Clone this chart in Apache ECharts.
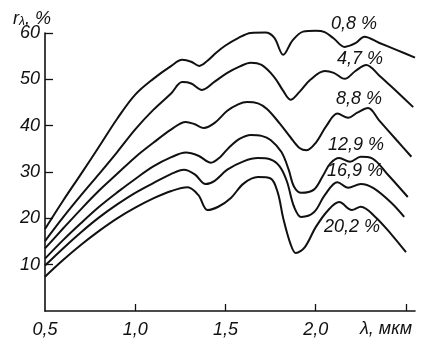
<!DOCTYPE html>
<html><head><meta charset="utf-8">
<script src="https://cdn.jsdelivr.net/npm/echarts@6/dist/echarts.min.js"></script>
<style>html,body{margin:0;padding:0;background:#fff}#c{width:430px;height:361px}</style>
</head><body><div id="c"></div>
<script>
// Wavelength (µm) and reflectance (%) for each moisture content
const moistureLabels = ['0,8 %', '4,7 %', '8,8 %', '12,9 %', '16,9 %', '20,2 %'];

const wl08 = [0.5,0.6,0.7,0.8,0.9,1.0,1.1,1.2,1.26,1.31,1.355,1.4,1.45,1.5,1.57,1.64,1.72,1.77,1.82,1.87,1.93,2.0,2.05,2.1,2.16,2.22,2.27,2.35,2.45,2.55];
const r08  = [17.7,23.8,29.6,35.5,41.5,46.7,50.1,52.9,54.2,53.8,52.9,54.0,55.8,57.3,58.9,60.0,60.1,59.0,55.3,58.3,60.3,60.5,60.2,58.8,57.0,57.8,59.2,57.9,56.3,54.7];

const wl47 = [0.5,0.6,0.7,0.8,0.9,1.0,1.1,1.2,1.26,1.31,1.37,1.44,1.51,1.58,1.64,1.7,1.77,1.82,1.86,1.91,1.97,2.05,2.1,2.16,2.22,2.28,2.35,2.45,2.54];
const r47  = [15.1,20.2,25.0,29.6,34.3,39.2,43.4,47.0,49.4,49.1,47.7,49.5,51.4,52.8,53.6,53.1,50.5,47.5,45.6,47.3,49.9,51.8,51.4,50.1,51.8,53.1,50.9,47.3,44.0];

const wl88 = [0.5,0.6,0.7,0.8,0.9,1.0,1.1,1.2,1.28,1.33,1.38,1.44,1.51,1.57,1.62,1.68,1.73,1.8,1.86,1.91,1.95,2.0,2.06,2.12,2.18,2.23,2.29,2.35,2.45,2.53];
const r88  = [13.5,17.8,22.0,26.0,29.6,33.2,36.3,39.2,40.8,40.3,39.5,40.6,43.2,44.6,45.1,44.8,43.6,40.5,37.5,35.2,34.7,36.3,40.0,42.6,41.7,42.8,43.8,41.2,36.8,33.3];

const wl129 = [0.5,0.6,0.7,0.8,0.9,1.0,1.1,1.2,1.28,1.35,1.42,1.47,1.52,1.58,1.64,1.7,1.75,1.81,1.85,1.88,1.92,1.99,2.04,2.08,2.13,2.19,2.25,2.31,2.4,2.51];
const r129  = [11.3,15.3,19.0,22.5,25.6,28.5,31.2,33.2,34.2,33.5,32.0,33.2,35.3,37.2,38.0,37.8,36.9,34.3,30.5,26.8,25.5,26.2,29.2,31.8,33.0,32.2,33.3,33.0,29.4,24.6];

const wl169 = [0.5,0.6,0.7,0.8,0.9,1.0,1.1,1.2,1.27,1.33,1.39,1.44,1.51,1.6,1.68,1.75,1.8,1.84,1.88,1.92,1.99,2.05,2.12,2.18,2.25,2.32,2.42,2.49];
const r169  = [9.8,13.5,17.0,20.2,23.0,25.5,27.6,29.6,30.5,29.5,27.4,28.1,30.5,32.3,33.0,32.7,31.2,28.0,22.5,20.3,21.3,25.0,27.8,26.6,27.4,26.5,23.3,20.3];

const wl202 = [0.5,0.6,0.7,0.8,0.9,1.0,1.1,1.2,1.29,1.35,1.4,1.46,1.53,1.6,1.68,1.75,1.79,1.82,1.86,1.89,1.94,2.0,2.07,2.13,2.2,2.25,2.33,2.42,2.5];
const r202  = [7.4,11.0,14.3,17.3,20.0,22.3,24.3,25.9,26.7,25.0,21.8,22.5,24.4,27.5,28.9,28.6,25.5,20.0,14.5,12.5,13.8,18.1,21.8,23.5,21.8,22.5,20.3,16.5,12.7];

const xTicks = [1.0, 1.5, 2.0, 2.5];
const xTickLabels = [0.5, 1.0, 1.5, 2.0];
const yTicks = [10, 20, 30, 40, 50, 60];

const seriesWl = [wl08, wl47, wl88, wl129, wl169, wl202];
const seriesR = [r08, r47, r88, r129, r169, r202];

const ink = '#111';
const FF = '"Liberation Sans", Arial, sans-serif';
const chart = echarts.init(document.getElementById('c'), null, {renderer: 'canvas'});

const series = seriesWl.map((wl, k) => ({
  name: moistureLabels[k],
  type: 'line',
  data: wl.map((x, i) => [x, seriesR[k][i]]),
  smooth: 0.35,
  symbol: 'none',
  showSymbol: false,
  clip: false,
  lineStyle: {color: ink, width: 2},
  z: 3
}));

const labelPos = [[354, 24], [360, 59], [359, 99], [356, 145], [355, 171], [352, 227]];

const graphics = moistureLabels.map((t, k) => ({
  type: 'text', x: labelPos[k][0], y: labelPos[k][1], z: 10,
  style: {text: t, align: 'center', verticalAlign: 'middle',
    font: 'italic 18px ' + FF, fill: ink}
}));
graphics.push({
  type: 'text', x: 386, y: 329, z: 10,
  style: {text: 'λ, мкм', align: 'center', verticalAlign: 'middle',
    font: 'italic 18px ' + FF, fill: ink}
});
graphics.push({
  type: 'text', x: 13, y: 6, z: 10,
  style: {
    text: '{a|r}{b|λ}{a|, %}', align: 'left', verticalAlign: 'top',
    rich: {
      a: {font: 'italic 18px ' + FF, fill: ink, verticalAlign: 'bottom', lineHeight: 22},
      b: {font: 'italic 12px ' + FF, fill: ink, verticalAlign: 'bottom', lineHeight: 10}
    }
  }
});

chart.setOption({
  animation: false,
  backgroundColor: '#fff',
  grid: {left: 45, right: 15, top: 33, bottom: 50},
  xAxis: {
    type: 'value', min: 0.5, max: 2.55, interval: 0.5,
    axisLine: {show: true, lineStyle: {color: ink, width: 1.6}},
    axisTick: {show: true, inside: true, length: 7, customValues: xTicks, lineStyle: {color: ink, width: 1.3}},
    axisLabel: {customValues: xTickLabels, formatter: v => v.toFixed(1).replace('.', ','),
      fontFamily: FF, fontStyle: 'italic', fontSize: 18, color: ink, margin: 10},
    splitLine: {show: false}
  },
  yAxis: {
    type: 'value', min: 0, max: 60, interval: 10,
    axisLine: {show: true, lineStyle: {color: ink, width: 1.6}},
    axisTick: {show: true, inside: true, length: 8, customValues: yTicks, lineStyle: {color: ink, width: 1.3}},
    axisLabel: {customValues: yTicks, fontFamily: FF, fontStyle: 'italic', fontSize: 18, color: ink, margin: 5},
    splitLine: {show: false}
  },
  series: series,
  graphic: graphics
});
</script></body></html>
